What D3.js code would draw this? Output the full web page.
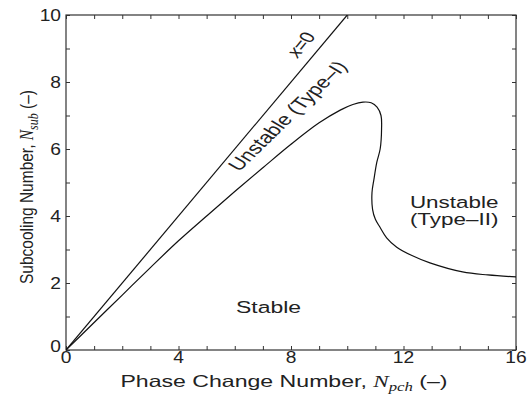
<!DOCTYPE html>
<html>
<head>
<meta charset="utf-8">
<script src="https://cdn.jsdelivr.net/npm/d3@7"></script>
<style>
  body { margin: 0; background: #fff; }
  svg { font-family: "Liberation Sans", Arial, sans-serif; }
  text { fill: #222; }
</style>
</head>
<body>
<div id="chart"></div>
<script>
// boundary x=0 (N_sub = N_pch)
const zeroLine = [[0, 0], [10, 10]];

// stability boundary
const boundaryNpch = [0, 1, 2, 3, 4, 5, 6, 7, 8, 9, 9.75, 10.2, 10.56, 10.85, 11.06, 11.2, 11.22, 11.17, 11.05, 10.95, 10.88, 10.9, 11.0, 11.16, 11.4, 11.76, 12.3, 12.94, 14.1, 15, 16];
const boundaryNsub = [0, 0.82, 1.64, 2.46, 3.26, 4.0, 4.73, 5.44, 6.14, 6.78, 7.16, 7.33, 7.40, 7.38, 7.25, 7.0, 6.6, 6.0, 5.6, 5.1, 4.7, 4.2, 3.9, 3.67, 3.35, 3.07, 2.82, 2.6, 2.33, 2.24, 2.18];

const xTickLabels = [0, 4, 8, 12, 16];
const yTickLabels = [0, 2, 4, 6, 8, 10];
const xMinor = d3.range(0, 17, 1);
const yMinor = d3.range(0, 11, 1);

const width = 527, height = 398;
const margin = { left: 66, top: 15, right: 11, bottom: 48 };

var svg = d3
  .select('#chart')
  .append('svg')
  .attr('width', width)
  .attr('height', height);

var x = d3.scaleLinear().domain([0, 16]).range([margin.left, width - margin.right]);
var y = d3.scaleLinear().domain([0, 10]).range([height - margin.bottom, margin.top]);

// the source picture is a bit wider than tall, so text is stretched sideways
function label(px, py, opts) {
  var t = svg.append('text')
    .attr('transform',
      'translate(' + px + ',' + py + ') scale(' + (opts.sx || 1) + ',1) rotate(' + (opts.rotate || 0) + ')')
    .attr('text-anchor', opts.anchor || 'middle')
    .attr('font-size', opts.size || 16);
  if (opts.dy) t.attr('dy', opts.dy);
  return t;
}

svg.append('defs')
  .append('clipPath')
  .attr('id', 'plot-clip')
  .append('rect')
  .attr('x', x(0))
  .attr('y', y(10))
  .attr('width', x(16) - x(0))
  .attr('height', y(0) - y(10));

// ticks pointing inward on all four sides
var tickLen = 4;
svg.append('g')
  .attr('transform', 'translate(0,' + y(0) + ')')
  .call(d3.axisBottom(x).tickValues(xMinor).tickSizeInner(-tickLen).tickSizeOuter(0).tickFormat(''))
  .select('.domain').remove();
svg.append('g')
  .attr('transform', 'translate(0,' + y(10) + ')')
  .call(d3.axisTop(x).tickValues(xMinor).tickSizeInner(-tickLen).tickSizeOuter(0).tickFormat(''))
  .select('.domain').remove();
svg.append('g')
  .attr('transform', 'translate(' + x(0) + ',0)')
  .call(d3.axisLeft(y).tickValues(yMinor).tickSizeInner(-tickLen).tickSizeOuter(0).tickFormat(''))
  .select('.domain').remove();
svg.append('g')
  .attr('transform', 'translate(' + x(16) + ',0)')
  .call(d3.axisRight(y).tickValues(yMinor).tickSizeInner(-tickLen).tickSizeOuter(0).tickFormat(''))
  .select('.domain').remove();

svg.selectAll('.tick line').attr('stroke', '#333');

// tick labels
xTickLabels.forEach((v) => {
  label(x(v), y(0) + 13, { sx: 1.2, size: 16 }).text(v);
});
yTickLabels.forEach((v) => {
  label(x(0) - 5, y(v) - (v === 0 ? 4 : 0), { sx: 1.2, size: 16, anchor: 'end', dy: '0.35em' }).text(v);
});

// frame
svg.append('rect')
  .attr('x', x(0))
  .attr('y', y(10))
  .attr('width', x(16) - x(0))
  .attr('height', y(0) - y(10))
  .attr('fill', 'none')
  .attr('stroke', '#333')
  .attr('stroke-width', 1.2);

var plot = svg.append('g').attr('clip-path', 'url(#plot-clip)');

plot.append('path')
  .datum(zeroLine)
  .attr('fill', 'none')
  .attr('stroke', '#111')
  .attr('stroke-width', 1.2)
  .attr('d', d3.line().x((d) => x(d[0])).y((d) => y(d[1])));

var boundary = boundaryNpch.map((v, i) => [v, boundaryNsub[i]]);
plot.append('path')
  .datum(boundary)
  .attr('fill', 'none')
  .attr('stroke', '#111')
  .attr('stroke-width', 1.2)
  .attr('d', d3.line()
    .curve(d3.curveCatmullRom.alpha(0.5))
    .x((d) => x(d[0]))
    .y((d) => y(d[1])));

// region labels
label(x(8.57), y(9.03), { sx: 1.32, size: 16, rotate: -58 })
  .html('<tspan font-style="italic">x</tspan>=0');

label(x(8.09), y(6.88), { sx: 1.32, size: 17, rotate: -52 })
  .text('Unstable (Type\u2013I)');

label(x(7.2), y(1.1), { sx: 1.35, size: 17 }).text('Stable');

label(x(13.8), y(4.24), { sx: 1.32, size: 17 }).text('Unstable');
label(x(13.8), y(3.74), { sx: 1.32, size: 17 }).text('(Type\u2013II)');

// axis titles
label(284, 387, { sx: 1.4, size: 16.5 })
  .html('Phase Change Number, <tspan font-family="Liberation Serif" font-style="italic">N</tspan><tspan font-family="Liberation Serif" font-style="italic" font-size="12" dy="4">pch</tspan><tspan dy="-4"> (\u2013)</tspan>');

label(33, 187, { sx: 1.15, size: 15.5, rotate: -90 })
  .html('Subcooling Number, <tspan font-family="Liberation Serif" font-style="italic">N</tspan><tspan font-family="Liberation Serif" font-style="italic" font-size="12" dy="4">sub</tspan><tspan dy="-4"> (\u2013)</tspan>');
</script>
</body>
</html>
